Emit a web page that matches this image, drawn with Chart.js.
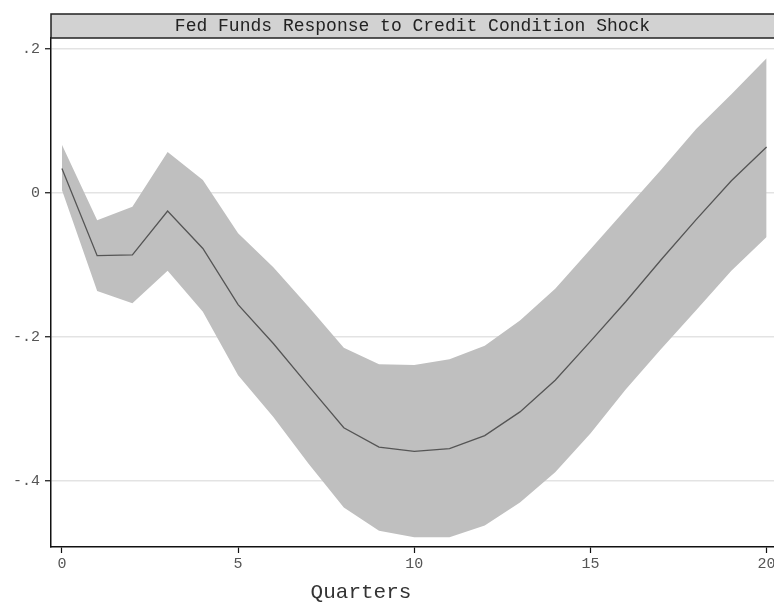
<!DOCTYPE html>
<html>
<head>
<meta charset="utf-8">
<script src="https://cdn.jsdelivr.net/npm/chart.js@4"></script>
<style>
  html, body { margin: 0; padding: 0; background: #fff; }
  #wrap { width: 774px; height: 604px; }
</style>
</head>
<body>
<div id="wrap"><canvas id="irfChart" width="774" height="604"></canvas></div>
<script>
// quarters after the shock
var quarters = [0, 1, 2, 3, 4, 5, 6, 7, 8, 9, 10, 11, 12, 13, 14, 15, 16, 17, 18, 19, 20]
// point response
var response = [0.034, -0.087, -0.086, -0.025, -0.077, -0.155, -0.209, -0.268, -0.326, -0.353, -0.359,
  -0.355, -0.337, -0.304, -0.260, -0.206, -0.151, -0.093, -0.037, 0.017, 0.064]
// confidence band
var upper = [0.067, -0.038, -0.019, 0.057, 0.018, -0.056, -0.103, -0.158, -0.215, -0.238, -0.239,
  -0.231, -0.212, -0.177, -0.133, -0.078, -0.023, 0.032, 0.089, 0.137, 0.187]
var lower = [0.004, -0.136, -0.153, -0.108, -0.165, -0.253, -0.311, -0.376, -0.437, -0.469, -0.478,
  -0.478, -0.462, -0.430, -0.388, -0.334, -0.273, -0.217, -0.163, -0.108, -0.061]
var xTicks = [0, 5, 10, 15, 20]
var yTicks = [-0.4, -0.2, 0, 0.2]

var chartTitle = 'Fed Funds Response to Credit Condition Shock'
var xTitle = 'Quarters'
var monoFont = "'Liberation Mono', 'DejaVu Sans Mono', monospace"

function toPoints(vals) {
  return quarters.map(function (q, i) { return { x: q, y: vals[i] } })
}

function fmtY(v) {
  if (Math.abs(v) < 1e-9) return '0'
  var s = String(Math.round(v * 10) / 10)
  return s.replace('0.', '.')
}

// grey title strip above the plot, and x axis title
var frame = {
  id: 'frame',
  afterDraw: function (chart) {
    var ctx = chart.ctx
    var area = chart.chartArea
    ctx.save()
    ctx.fillStyle = '#d2d2d2'
    ctx.fillRect(area.left, 14, chart.width - area.left + 2, area.top - 14)
    ctx.strokeStyle = '#222'
    ctx.lineWidth = 1.5
    ctx.strokeRect(area.left, 14, chart.width - area.left + 2, area.top - 14)
    ctx.fillStyle = '#222'
    ctx.font = '18px ' + monoFont
    ctx.textAlign = 'center'
    ctx.textBaseline = 'middle'
    ctx.fillText(chartTitle, (area.left + chart.width) / 2, 26)
    ctx.font = '21px ' + monoFont
    ctx.fillStyle = '#333'
    ctx.fillText(xTitle, 361, 592)
    ctx.restore()
  }
}

var ctx = document.getElementById('irfChart').getContext('2d')
new Chart(ctx, {
  type: 'line',
  data: {
    // first dataset is drawn on top
    datasets: [{
      label: 'response',
      data: toPoints(response),
      borderColor: '#555555',
      borderWidth: 1.3,
      pointRadius: 0,
      fill: false
    }, {
      label: 'upper',
      data: toPoints(upper),
      borderWidth: 0,
      pointRadius: 0,
      backgroundColor: '#bfbfbf',
      fill: '+1'
    }, {
      label: 'lower',
      data: toPoints(lower),
      borderWidth: 0,
      pointRadius: 0,
      fill: false
    }]
  },
  options: {
    responsive: false,
    animation: false,
    layout: { padding: { top: 38, left: 0, right: 0, bottom: 0 } },
    plugins: {
      legend: { display: false },
      tooltip: { enabled: false },
      title: { display: false }
    },
    scales: {
      x: {
        type: 'linear',
        min: -0.31,
        max: 20.21,
        afterBuildTicks: function (scale) {
          scale.ticks = xTicks.map(function (v) { return { value: v } })
        },
        afterFit: function (scale) {
          scale.height = 57
          scale.paddingLeft = 0
          scale.paddingRight = 0
        },
        border: { color: '#111', width: 1.5 },
        grid: { drawOnChartArea: false, drawTicks: true, tickLength: 6, tickColor: '#111', tickWidth: 1.2 },
        ticks: {
          color: '#555',
          font: { family: monoFont, size: 15 },
          padding: 2,
          maxRotation: 0,
          autoSkip: false
        }
      },
      y: {
        min: -0.4917,
        max: 0.2153,
        afterBuildTicks: function (scale) {
          scale.ticks = yTicks.map(function (v) { return { value: v } })
        },
        afterFit: function (scale) {
          scale.width = 51
          scale.paddingTop = 0
          scale.paddingBottom = 0
        },
        border: { color: '#111', width: 1.5 },
        grid: { color: '#e3e3e3', lineWidth: 1.5, tickLength: 6, tickColor: '#111', tickWidth: 1.2 },
        ticks: {
          color: '#555',
          font: { family: monoFont, size: 15 },
          padding: 5,
          callback: function (v) { return fmtY(v) }
        }
      }
    }
  },
  plugins: [frame]
})
</script>
</body>
</html>
